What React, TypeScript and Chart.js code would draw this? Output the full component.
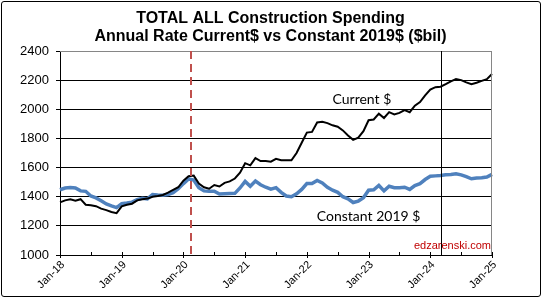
import React, { useEffect, useRef } from "react";
import { Chart, registerables } from "chart.js";

Chart.register(...registerables);

// Monthly categories Jan-18 .. Jan-25
const monthNames = ["Jan", "Feb", "Mar", "Apr", "May", "Jun", "Jul", "Aug", "Sep", "Oct", "Nov", "Dec"];
const yearSuffixes = ["18", "19", "20", "21", "22", "23", "24", "25"];
const months: string[] = [];
yearSuffixes.forEach((yr, yi) =>
  monthNames.forEach((m, mi) => {
    if (yi < yearSuffixes.length - 1 || mi === 0) months.push(`${m}-${yr}`);
  })
);

// Annual rate, $ billions
const currentDollars = [
  1361, 1375, 1382, 1372, 1383, 1345, 1342, 1335, 1318, 1308, 1295, 1287,
  1334, 1345, 1352, 1375, 1382, 1387, 1400, 1405, 1412, 1428, 1447, 1465,
  1510, 1540, 1545, 1490, 1465, 1455, 1480, 1470, 1495, 1505, 1525, 1565,
  1630, 1615, 1665, 1645, 1645, 1640, 1660, 1650, 1650, 1650, 1700, 1770,
  1840, 1845, 1910, 1915, 1905, 1890, 1880, 1855, 1820, 1790, 1805, 1850,
  1925, 1930, 1970, 1940, 1980, 1965, 1975, 1995, 1980, 2025, 2050, 2095,
  2135, 2152, 2155, 2172, 2192, 2207, 2200, 2185, 2172, 2182, 2195, 2207,
  2242,
];

const constant2019Dollars = [
  1448, 1460, 1463, 1460, 1440, 1437, 1405, 1392, 1372, 1350, 1337, 1325,
  1352, 1357, 1363, 1380, 1390, 1385, 1415, 1412, 1410, 1415, 1428, 1455,
  1490, 1522, 1515, 1462, 1440, 1437, 1438, 1418, 1420, 1422, 1423, 1460,
  1505, 1472, 1507, 1482, 1465, 1452, 1462, 1430, 1405, 1400, 1420, 1450,
  1490, 1490, 1512, 1495, 1465, 1445, 1430, 1400, 1385, 1360, 1370, 1393,
  1445, 1447, 1477, 1440, 1472, 1462, 1462, 1465, 1450, 1477, 1490, 1518,
  1540, 1543, 1545, 1550, 1553, 1558, 1550, 1538, 1523, 1528, 1530, 1535,
  1553,
];

// Reference markers (month index on the category axis)
const pandemicMarker = 25.5;
const latestDataMarker = 74;

const titleLines = ["TOTAL ALL Construction Spending", "Annual Rate Current$ vs Constant 2019$ ($bil)"];
const seriesNotes = [
  { text: "Current $", month: 58.7, value: 2067 },
  { text: "Constant 2019 $", month: 60, value: 1266 },
];
const sourceNote = "edzarenski.com";

const ARIAL = 'Arial, "Liberation Sans", sans-serif';

// Two-line heading centred over the whole canvas
const titlePlugin = {
  id: "heading",
  afterDraw(chart: any) {
    const { ctx, width } = chart;
    ctx.save();
    ctx.fillStyle = "#000";
    ctx.font = `bold 16px ${ARIAL}`;
    ctx.textAlign = "center";
    ctx.textBaseline = "middle";
    titleLines.forEach((line, i) => ctx.fillText(line, width / 2 - 1, 18.5 + i * 18.5));
    ctx.restore();
  },
};

const overlayPlugin = {
  id: "overlay",
  afterDatasetsDraw(chart: any) {
    const { ctx, chartArea, scales } = chart;
    const x = scales.x;
    const y = scales.y;
    ctx.save();

    // right / top frame
    ctx.strokeStyle = "#868686";
    ctx.lineWidth = 1;
    ctx.beginPath();
    ctx.moveTo(chartArea.left, chartArea.top + 0.5);
    ctx.lineTo(Math.round(chartArea.right) - 0.5, chartArea.top + 0.5);
    ctx.lineTo(Math.round(chartArea.right) - 0.5, chartArea.bottom);
    ctx.stroke();

    // month axis tick marks: yearly ticks cross the axis, half-year ticks sit inside
    ctx.strokeStyle = "#000";
    ctx.beginPath();
    for (let i = 0; i < months.length; i += 6) {
      const px = Math.round(x.getPixelForValue(i)) + 0.5;
      ctx.moveTo(px, chartArea.bottom - 3);
      ctx.lineTo(px, chartArea.bottom + (i % 12 === 0 ? 3 : 0));
    }
    ctx.stroke();

    // year labels, rotated
    ctx.fillStyle = "#000";
    ctx.font = `11px ${ARIAL}`;
    ctx.textAlign = "right";
    ctx.textBaseline = "middle";
    for (let i = 0; i < months.length; i += 12) {
      const px = x.getPixelForValue(i);
      ctx.save();
      ctx.translate(px + 3, chartArea.bottom + 8);
      ctx.rotate(-Math.PI / 4);
      ctx.fillText(months[i], 0, 0);
      ctx.restore();
    }

    // pandemic marker
    const pm = Math.round(x.getPixelForValue(pandemicMarker));
    ctx.strokeStyle = "#C0504D";
    ctx.lineWidth = 2;
    ctx.setLineDash([8, 5]);
    ctx.beginPath();
    ctx.moveTo(pm, chartArea.top);
    ctx.lineTo(pm, chartArea.bottom);
    ctx.stroke();
    ctx.setLineDash([]);

    // latest data marker
    const lm = Math.round(x.getPixelForValue(latestDataMarker)) + 0.5;
    ctx.strokeStyle = "#000";
    ctx.lineWidth = 1;
    ctx.beginPath();
    ctx.moveTo(lm, chartArea.top);
    ctx.lineTo(lm, chartArea.bottom);
    ctx.stroke();

    // series notes
    ctx.fillStyle = "#000";
    ctx.font = '14px Lato, "Open Sans", sans-serif';
    ctx.textAlign = "center";
    ctx.textBaseline = "middle";
    seriesNotes.forEach((n) => {
      ctx.fillText(n.text, x.getPixelForValue(n.month), y.getPixelForValue(n.value));
    });

    // source note
    ctx.fillStyle = "#C00000";
    ctx.font = `11px ${ARIAL}`;
    ctx.textAlign = "right";
    ctx.fillText(sourceNote, chartArea.right - 1, chartArea.bottom - 9);

    ctx.restore();
  },
};

export default function App() {
  const canvasRef = useRef<HTMLCanvasElement | null>(null);

  useEffect(() => {
    if (!canvasRef.current) return;
    const chart = new Chart(canvasRef.current, {
      type: "line",
      data: {
        labels: months,
        datasets: [
          {
            label: "Current $",
            data: currentDollars,
            borderColor: "#000000",
            backgroundColor: "#000000",
            borderWidth: 2,
            pointRadius: 0,
            tension: 0,
          },
          {
            label: "Constant 2019 $",
            data: constant2019Dollars,
            borderColor: "#4F81BD",
            backgroundColor: "#4F81BD",
            borderWidth: 3.5,
            pointRadius: 0,
            tension: 0,
          },
        ],
      },
      options: {
        responsive: false,
        animation: false,
        devicePixelRatio: 1,
        layout: { padding: { left: 0, right: 51, top: 51, bottom: 0 } },
        plugins: {
          legend: { display: false },
          tooltip: { enabled: false },
          title: { display: false },
        },
        scales: {
          x: {
            type: "category",
            offset: false,
            grid: { display: false, drawTicks: false },
            border: { display: true, color: "#000", width: 1 },
            ticks: { display: false, autoSkip: false },
            afterFit: (s: any) => {
              s.height = 45;
            },
          },
          y: {
            min: 1000,
            max: 2400,
            ticks: {
              stepSize: 200,
              color: "#000",
              padding: 7,
              font: { family: ARIAL, size: 13 },
              callback: (v: any) => String(v),
            },
            grid: {
              color: (c: any) => (c.tick && c.tick.value === 2400 ? "#868686" : "#000"),
              tickColor: "#000",
              tickLength: 4,
              lineWidth: 1,
            },
            border: { display: true, color: "#000", width: 1 },
            afterFit: (s: any) => {
              s.width = 60;
            },
          },
        },
      },
      plugins: [overlayPlugin, titlePlugin],
    });
    return () => chart.destroy();
  }, []);

  return (
    <div
      style={{
        position: "fixed",
        left: 0,
        top: 0,
        width: 543,
        height: 300,
        background: "#fff",
      }}
    >
      <canvas ref={canvasRef} width={543} height={300} style={{ display: "block" }} />
      <div
        style={{
          position: "absolute",
          left: 1,
          top: 1,
          width: 538,
          height: 294,
          border: "1px solid #000",
          borderRadius: 3,
          pointerEvents: "none",
        }}
      />
    </div>
  );
}
